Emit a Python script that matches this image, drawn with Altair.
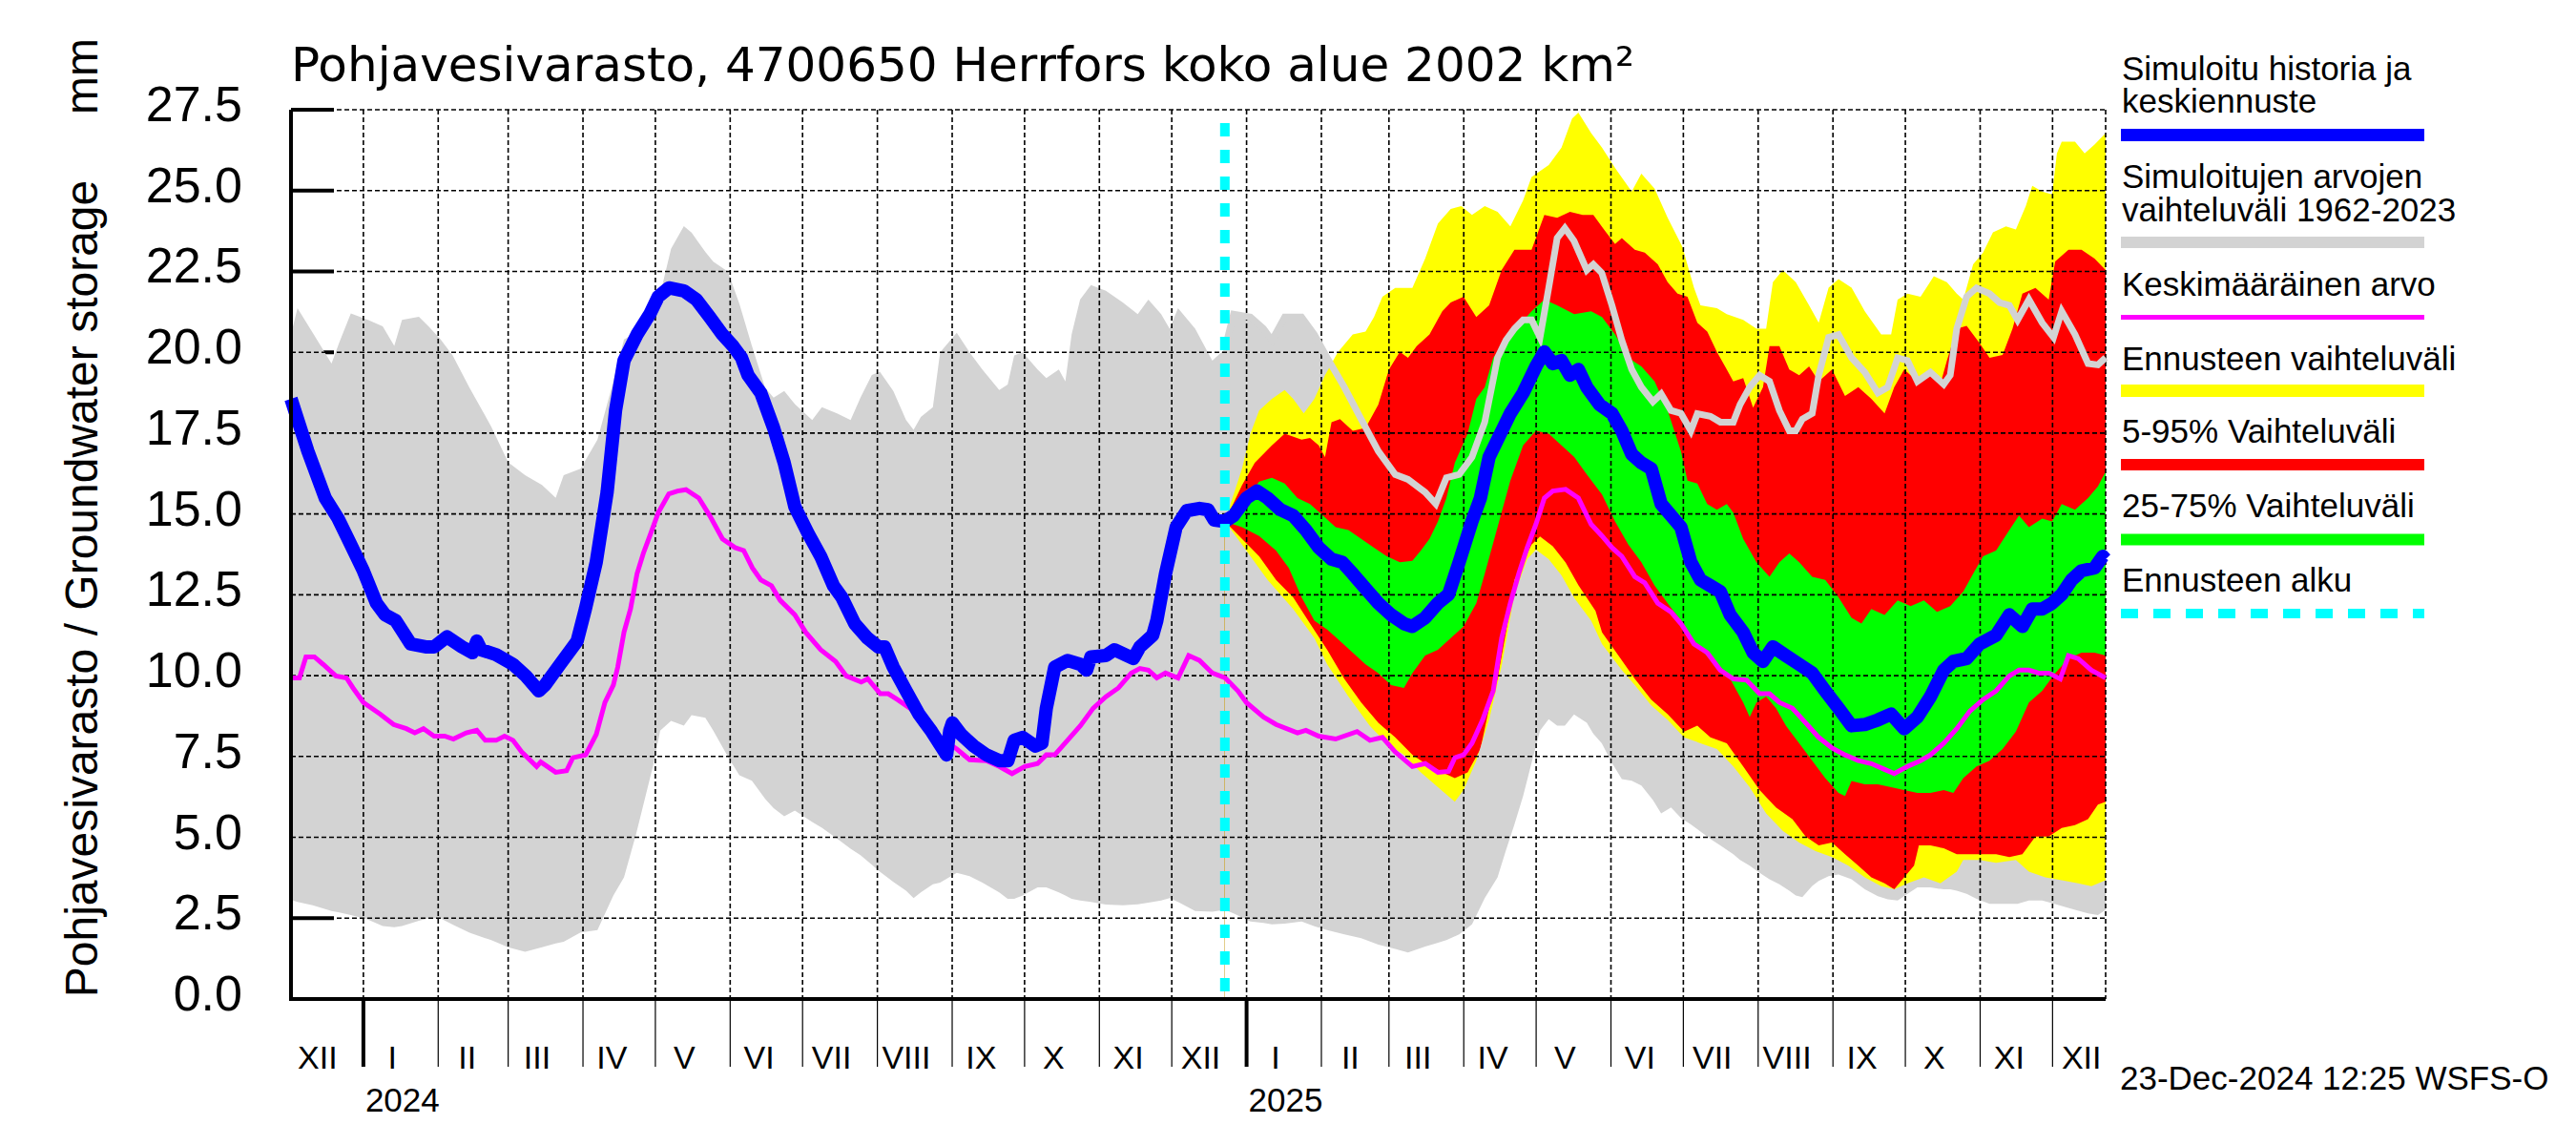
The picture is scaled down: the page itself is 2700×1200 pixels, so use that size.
import altair as alt
import pandas as pd

# ---------------- texts ----------------
TITLE = "Pohjavesivarasto, 4700650 Herrfors koko alue 2002 km²"
Y_TITLE = "Pohjavesivarasto / Groundwater storage"
Y_UNIT = "mm"
STAMP = "23-Dec-2024 12:25 WSFS-O"

# ---------------- time axis ----------------
ORIGIN = pd.Timestamp("2023-12-01")          # day 0
X_START = "2023-12-02"
X_END = "2025-12-23"
FORECAST_START = "2024-12-23"
MONTH_NAMES = ["XII", "I", "II", "III", "IV", "V", "VI", "VII", "VIII", "IX", "X", "XI", "XII",
               "I", "II", "III", "IV", "V", "VI", "VII", "VIII", "IX", "X", "XI", "XII"]
YEAR_NAMES = ["2024", "2025"]
Y_TICKS = [0.0, 2.5, 5.0, 7.5, 10.0, 12.5, 15.0, 17.5, 20.0, 22.5, 25.0, 27.5]

# ---------------- data (day = days since 2023-12-01, value in mm) ----------------
range_day = [1, 3.7, 10, 17.8, 21, 25.8, 32.9, 39, 43.8, 47,
             54, 58, 63, 68, 75, 84, 91, 98, 105, 110.7,
             114, 121, 128, 134.6, 139, 144, 151, 154, 158.5, 163.8,
             167, 172.7, 176, 182, 186.8, 192, 197.5, 201, 205.4, 209.8,
             217, 221, 227.5, 232.9, 237, 241.7, 245, 250.6, 255.9, 259,
             262, 267, 270, 276.9, 282.2, 287.5, 294.5, 298, 300.7, 304.2,
             310.4, 314, 319.2, 321.9, 324.5, 328, 332.5, 338.7, 345.7, 351.9,
             356.3, 361.6, 365.1, 368.6, 375.7, 382.8, 388, 391.6, 398.6, 404,
             407.5, 412.8, 419.8, 425.1, 430.4, 437.5, 444.5, 451.6, 458.6, 463.9,
             471, 475.4, 479.8, 485.1, 490.4, 495.7, 501, 504.5, 508, 511.6,
             515.1, 518.6, 522.2, 525.7, 528.9, 532.7, 538, 540.7, 544.2, 548.4,
             552.5, 556.6, 560.6, 565.4, 568.8, 572.9, 577, 581.1, 583.8, 589.2,
             593.3, 598.7, 601.5, 605.5, 609.6, 613.7, 617.8, 621.9, 624.6, 627.3,
             631.4, 634.1, 638.2, 642.3, 647.7, 653.2, 658.6, 662.7, 666.8, 670.9,
             675, 680.4, 685.9, 688.6, 691.3, 695.4, 699.5, 704.9, 709, 713.1,
             716.5, 721.2, 726.7, 731.4, 734.8, 740.3, 745.7, 749.8, 753]
range_max = [20.55, 21.36, 20.6, 19.65, 20.3, 21.2, 21.0, 20.8, 20.2, 21.0,
             21.1, 20.8, 20.4, 19.9, 18.9, 17.7, 16.6, 16.2, 15.9, 15.5,
             16.2, 16.4, 17.3, 19.1, 20.4, 20.6, 20.9, 21.8, 23.2, 23.9,
             23.7, 23.1, 22.8, 22.5, 21.5, 20.2, 18.9, 18.6, 18.8, 18.4,
             17.9, 18.3, 18.1, 17.9, 18.6, 19.3, 19.4, 18.8, 17.9, 17.6,
             18.0, 18.3, 20.0, 20.6, 20.0, 19.47, 18.83, 19.0, 19.9, 20.0,
             19.47, 19.2, 19.47, 19.1, 20.55, 21.63, 22.08, 21.9, 21.54, 21.18,
             21.63, 21.18, 20.73, 21.36, 20.73, 19.74, 20.1, 21.18, 21.09, 20.73,
             20.37, 21.09, 21.09, 20.55, 19.83, 18.92, 17.93, 16.94, 16.22, 16.07,
             15.67, 15.31, 16.12, 16.22, 16.76, 17.84, 19.83, 20.37, 20.73, 21.0,
             21.0, 20.46, 21.99, 23.53, 23.84, 23.44, 22.54, 22.72, 22.45, 21.45,
             20.37, 19.47, 18.92, 18.47, 18.71, 18.2, 18.11, 17.57, 18.1, 18.02,
             17.84, 17.84, 18.38, 18.92, 19.29, 19.1, 18.2, 17.57, 17.57, 17.93,
             18.11, 19.29, 20.46, 20.55, 19.83, 19.38, 18.74, 18.92, 19.83, 19.74,
             19.1, 19.38, 19.01, 19.29, 20.73, 21.72, 21.99, 21.81, 21.54, 21.45,
             21.0, 21.63, 20.91, 20.46, 21.27, 20.55, 19.65, 19.61, 19.83]
range_min = [3.07, 3.0, 2.9, 2.72, 2.68, 2.6, 2.46, 2.26, 2.22, 2.26,
             2.42, 2.49, 2.49, 2.3, 2.05, 1.82, 1.6, 1.46, 1.6, 1.72,
             1.77, 2.06, 2.13, 3.2, 3.76, 5.1, 7.2, 8.3, 8.6, 8.45,
             8.78, 8.7, 8.3, 7.5, 6.92, 6.75, 6.19, 5.9, 5.65, 5.83,
             5.47, 5.3, 4.95, 4.65, 4.45, 4.15, 3.94, 3.62, 3.35, 3.12,
             3.3, 3.55, 3.6, 3.9, 3.8, 3.6, 3.3, 3.1, 3.1, 3.2,
             3.45, 3.45, 3.3, 3.2, 3.1, 3.05, 3.0, 2.92, 2.9, 2.93,
             2.98, 3.05, 3.12, 3.0, 2.72, 2.7, 2.76, 2.65, 2.4, 2.35,
             2.31, 2.33, 2.4, 2.25, 2.13, 2.0, 1.88, 1.68, 1.55, 1.44,
             1.62, 1.72, 1.82, 2.0, 2.31, 3.12, 3.76, 4.6, 5.4, 6.28,
             7.3, 8.3, 8.65, 8.45, 8.45, 8.8, 8.54, 8.2, 7.91, 7.3,
             6.8, 6.75, 6.6, 6.15, 5.74, 5.92, 5.6, 5.4, 5.25, 4.95,
             4.75, 4.48, 4.3, 4.12, 3.9, 3.7, 3.55, 3.35, 3.2, 3.15,
             3.5, 3.65, 3.8, 3.85, 3.7, 3.39, 3.18, 3.08, 3.05, 3.25,
             3.45, 3.45, 3.39, 3.39, 3.35, 3.25, 3.1, 2.94, 2.94, 2.94,
             2.94, 3.05, 3.05, 2.95, 2.88, 2.76, 2.65, 2.6, 2.76]

simulated = [(1, 18.56), (8, 16.94), (15.2, 15.49), (20.5, 14.86), (25.8, 14.05), (31, 13.24), (36.4, 12.24),
             (40, 11.88), (44.4, 11.7), (50.6, 10.98), (56.8, 10.89), (60.3, 10.89), (65.6, 11.2), (71.8, 10.89),
             (76.2, 10.71), (78, 11.07), (79.8, 10.8), (86, 10.65), (93, 10.35), (98.3, 9.99), (103.7, 9.53),
             (106.3, 9.71), (112.5, 10.35), (119.6, 11.07), (123, 12.06), (127.5, 13.51), (132, 15.67),
             (135.5, 18.2), (139, 19.74), (144.4, 20.55), (149.7, 21.18), (153.2, 21.72), (157.6, 21.99),
             (163.8, 21.9), (169, 21.63), (174.5, 21.09), (179.8, 20.55), (184.2, 20.19), (187.7, 19.83),
             (190.4, 19.29), (195.7, 18.74), (201, 17.66), (205.4, 16.58), (209.8, 15.22), (215.2, 14.41),
             (220.5, 13.69), (225.8, 12.78), (229.3, 12.42), (234.6, 11.61), (239.9, 11.16), (244.4, 10.89),
             (247, 10.89), (250.6, 10.26), (255.9, 9.53), (261.2, 8.81), (266.5, 8.27), (272.7, 7.55),
             (274, 8.3), (275.1, 8.54), (278.7, 8.18), (284, 7.82), (289.2, 7.55), (294.5, 7.37), (298.1, 7.37),
             (300.7, 8.0), (304.2, 8.09), (309.5, 7.82), (312.2, 7.91), (314, 8.99), (317.5, 10.26),
             (322.8, 10.47), (328.1, 10.35), (330.7, 10.17), (332.5, 10.58), (338.7, 10.62), (342.2, 10.8),
             (347.5, 10.62), (350.1, 10.53), (352.8, 10.89), (358.1, 11.25), (359.8, 11.7), (363.4, 13.15),
             (367.8, 14.59), (372.2, 15.1), (377.5, 15.17), (381, 15.13), (383.6, 14.81), (388, 14.77),
             (391.6, 14.95), (396.9, 15.49), (401.3, 15.71), (405.7, 15.49), (411, 15.13), (416.3, 14.95),
             (421.6, 14.5), (426.9, 13.96), (432.2, 13.6), (436.6, 13.51), (441, 13.15), (446.3, 12.69),
             (451.6, 12.24), (456.9, 11.88), (462.2, 11.61), (465.7, 11.52), (471, 11.79), (476.3, 12.24),
             (480.7, 12.51), (485.1, 13.51), (490.4, 14.77), (493.9, 15.49), (497.5, 16.76), (501, 17.3),
             (506.3, 18.11), (511.6, 18.74), (516.9, 19.56), (520.4, 20.01), (523.9, 19.65), (527.5, 19.74),
             (531, 19.29), (534.5, 19.47), (538, 18.92), (543.3, 18.38), (548.4, 18.11), (552.5, 17.57),
             (556.6, 16.85), (560.6, 16.58), (564.7, 16.4), (568.8, 15.31), (572.9, 14.95), (577, 14.59),
             (581.1, 13.51), (585.1, 12.96), (589.2, 12.78), (593.3, 12.6), (597.4, 11.88), (602.8, 11.34),
             (606.9, 10.71), (611, 10.44), (615.1, 10.89), (620.5, 10.62), (626, 10.35), (631.4, 10.08),
             (636.8, 9.53), (642.3, 8.99), (647.7, 8.45), (653.2, 8.49), (658.6, 8.63), (664.1, 8.81),
             (669.5, 8.36), (675, 8.72), (680.4, 9.35), (685.9, 10.17), (689.9, 10.44), (695.4, 10.53),
             (700.8, 10.98), (707.6, 11.25), (713.1, 11.88), (718.5, 11.52), (722.6, 12.06), (726.7, 12.06),
             (730.8, 12.24), (734.8, 12.51), (738.9, 12.96), (743, 13.24), (748.4, 13.33), (751.8, 13.69),
             (753, 13.6)]

mean_value = [(1, 9.93), (4.5, 9.93), (7.2, 10.58), (10.7, 10.58), (14.3, 10.35), (19.6, 9.99), (24, 9.93),
              (26.7, 9.62), (31, 9.17), (38, 8.81), (43.5, 8.49), (48.8, 8.36), (52.3, 8.23), (55.9, 8.36),
              (60.3, 8.13), (64.7, 8.13), (68.3, 8.04), (73.6, 8.23), (78, 8.31), (81.5, 8.0), (86, 8.0),
              (89.5, 8.13), (93, 8.0), (96.6, 7.64), (102.8, 7.19), (104.5, 7.33), (110.7, 7.01), (115.2, 7.06),
              (117.8, 7.46), (123.1, 7.55), (127.5, 8.18), (131.1, 9.17), (134.6, 9.71), (136.4, 10.26),
              (139, 11.34), (141.7, 12.06), (144.4, 13.15), (147, 13.78), (149.7, 14.32), (153.2, 15.04),
              (157.6, 15.62), (161.2, 15.71), (164.7, 15.75), (170, 15.49), (174.5, 14.95), (179.8, 14.23),
              (185, 13.96), (188.6, 13.87), (192.2, 13.33), (195.7, 12.96), (200.1, 12.78), (203.7, 12.33),
              (209.8, 11.88), (214.3, 11.34), (220.5, 10.8), (226.7, 10.44), (231.1, 9.99), (237.3, 9.8),
              (240, 9.9), (245.2, 9.44), (248.5, 9.44), (252.3, 9.26), (257.6, 8.99), (262.9, 8.63),
              (268.3, 8.18), (271.6, 8.0), (276.9, 7.73), (282.2, 7.4), (289.2, 7.37), (294.5, 7.19),
              (299.8, 6.97), (305.1, 7.19), (310.4, 7.28), (314, 7.55), (317.5, 7.55), (322.8, 8.0),
              (328.1, 8.45), (333.4, 8.99), (338.7, 9.35), (343.9, 9.62), (349.2, 10.08), (352.8, 10.22),
              (356.3, 10.17), (359.8, 9.93), (363.4, 10.08), (368.6, 9.93), (373, 10.62), (377.5, 10.47),
              (382.8, 10.08), (388.1, 9.93), (393.4, 9.53), (396.9, 9.17), (404, 8.72), (409.2, 8.49),
              (418.1, 8.23), (421.6, 8.31), (426.9, 8.13), (433.9, 8.04), (442.8, 8.27), (448.1, 8.0),
              (453.3, 8.09), (458.6, 7.64), (465.7, 7.19), (471, 7.28), (476.3, 7.01), (480.7, 7.04),
              (483.3, 7.46), (486.9, 7.55), (490.4, 7.91), (494.8, 8.63), (499.2, 9.53), (502.7, 11.16),
              (506.3, 12.24), (509.8, 13.15), (513.3, 13.96), (516.9, 14.68), (520.4, 15.49), (523.9, 15.71),
              (529.2, 15.76), (534.5, 15.49), (539.8, 14.68), (544.3, 14.32), (548.4, 13.96), (552.5, 13.69),
              (557.9, 13.06), (562, 12.87), (567.4, 12.24), (572.9, 11.97), (577, 11.61), (582.4, 10.98),
              (587.9, 10.71), (593.3, 10.17), (598.7, 9.9), (604.2, 9.86), (609.6, 9.44), (613.7, 9.44),
              (617.8, 9.17), (623.2, 8.99), (628.7, 8.54), (634.1, 8.09), (639.6, 7.76), (645, 7.55),
              (650.5, 7.37), (655.9, 7.28), (661.4, 7.1), (665.4, 6.97), (670.9, 7.19), (676.3, 7.37),
              (680.4, 7.55), (685.9, 7.91), (691.3, 8.36), (696.7, 8.9), (702.2, 9.26), (707.6, 9.53),
              (713.1, 9.99), (717.1, 10.17), (721.2, 10.17), (725.3, 10.08), (729.4, 10.08), (734.2, 9.9),
              (737.6, 10.62), (741.6, 10.53), (747.1, 10.17), (753, 9.93)]

fc_max = [(388, 14.77), (395.1, 16.4), (398.6, 17.48), (402.2, 18.2), (407.5, 18.56), (412.8, 18.83),
          (416.3, 18.56), (420.7, 18.11), (425.1, 18.56), (429.5, 19.29), (432.2, 19.65), (434.8, 20.0),
          (441, 20.55), (446.3, 20.64), (449.8, 21.09), (453.3, 21.72), (458.6, 21.99), (465.7, 21.99),
          (471, 22.9), (476.3, 23.98), (481.6, 24.43), (486, 24.52), (490.4, 24.25), (495.7, 24.52),
          (501, 24.34), (506.3, 23.89), (511.6, 24.7), (515.1, 25.42), (522.2, 25.79), (527.5, 26.33),
          (531.9, 27.23), (534.5, 27.41), (539.8, 26.78), (544.3, 26.33), (549.7, 25.7), (556.6, 24.97),
          (560.6, 25.52), (566.1, 25.06), (571.5, 24.16), (577.6, 23.26), (582.4, 22.0), (585.1, 21.45),
          (591.9, 21.36), (596, 21.18), (602.8, 21.0), (608.3, 20.73), (612.3, 20.73), (615.1, 22.17),
          (619.2, 22.54), (624.6, 22.17), (630.1, 21.45), (634.1, 20.91), (638.2, 22.0), (642.3, 22.26),
          (647.7, 22.0), (653.2, 21.27), (660, 20.55), (664.1, 20.55), (666.8, 21.63), (670.9, 21.81),
          (676.3, 21.72), (681.8, 22.35), (687.2, 22.17), (691.3, 21.81), (694, 21.63), (698.1, 22.72),
          (702.2, 23.08), (706.3, 23.71), (711.7, 23.89), (715.8, 23.8), (719.9, 24.52), (722.6, 25.15),
          (726.7, 24.97), (730.8, 24.88), (732.8, 26.15), (734.8, 26.51), (740.3, 26.51), (744.3, 26.15),
          (748.4, 26.42), (753, 26.78)]

fc_p95 = [(388, 14.77), (395.1, 15.89), (400.4, 16.58), (407.5, 17.12), (412.8, 17.48), (419.8, 17.3),
          (423.3, 17.35), (426.9, 17.12), (429.5, 16.76), (432.2, 17.84), (435.7, 17.93), (441, 17.57),
          (446.3, 17.66), (451.6, 18.38), (456, 19.47), (460.5, 20.01), (463.9, 19.83), (467.5, 20.19),
          (472.8, 20.55), (478.1, 21.27), (481.6, 21.54), (486.9, 21.72), (492.2, 21.09), (497.5, 21.45),
          (502.7, 22.54), (508, 23.17), (515.1, 23.17), (520.4, 24.25), (525.7, 24.16), (531, 24.34),
          (536.3, 24.25), (540.7, 24.25), (545.1, 23.8), (549.7, 23.35), (552.5, 23.53), (557.9, 23.17),
          (562, 23.08), (567.4, 22.72), (571.5, 22.17), (575.6, 21.81), (579.7, 21.72), (583.8, 20.91),
          (587.9, 20.64), (591.9, 20.01), (596, 19.47), (598.7, 19.1), (602.8, 19.2), (606.9, 18.29),
          (611, 18.92), (613.7, 20.19), (617.8, 20.19), (621.9, 19.47), (626, 19.29), (630.1, 19.56),
          (634.1, 19.1), (639.6, 19.47), (645, 18.65), (650.5, 18.92), (655.9, 18.56), (661.4, 18.11),
          (665.4, 18.92), (669.5, 19.47), (675, 19.1), (680.4, 19.38), (684.5, 19.01), (687.2, 19.74),
          (691.3, 20.73), (695.4, 20.82), (700.8, 20.28), (704.9, 19.83), (710.3, 19.92), (714.4, 20.73),
          (718.5, 21.81), (723.9, 21.99), (729.4, 21.63), (732.1, 22.81), (737.6, 23.17), (743, 23.17),
          (748.4, 22.9), (753, 22.54)]

fc_p75 = [(388, 14.77), (395.1, 15.31), (402.2, 16.0), (407.5, 16.12), (412.8, 15.94), (418.1, 15.49),
          (423.3, 15.31), (428.6, 14.95), (433.9, 14.59), (439.2, 14.5), (444.5, 14.23), (449.8, 13.96),
          (455.1, 13.69), (460.5, 13.51), (465.7, 13.55), (469.2, 13.87), (472.8, 14.23), (476.3, 14.77),
          (479.8, 15.49), (483.3, 16.58), (488.6, 17.48), (492.2, 18.56), (495.7, 18.92), (499.2, 19.83),
          (504.5, 20.37), (509.8, 20.82), (515.1, 21.27), (520.4, 21.63), (525.7, 21.45), (532.8, 21.18),
          (539.8, 21.27), (544.3, 21.09), (549.7, 20.55), (555.2, 19.83), (560.6, 19.56), (566.1, 19.1),
          (571.5, 18.2), (577, 16.94), (579.7, 16.03), (583.8, 15.94), (587.9, 15.31), (591.9, 15.13),
          (596, 15.31), (598.7, 15.04), (602.8, 14.23), (608.3, 13.51), (613.7, 13.06), (617.8, 13.51),
          (621.9, 13.78), (626, 13.51), (631.4, 13.06), (636.8, 12.96), (642.3, 12.42), (647.7, 11.79),
          (651.8, 11.61), (655.9, 12.06), (661.4, 11.88), (666.8, 12.33), (672.2, 12.15), (677.7, 12.33),
          (683.1, 11.97), (688.6, 12.15), (694, 12.6), (698.1, 13.15), (702.2, 13.69), (707.6, 13.87),
          (713.1, 14.5), (717.1, 14.95), (721.2, 14.59), (726.7, 14.86), (730.8, 14.77), (734.8, 15.31),
          (740.3, 15.13), (745.7, 15.49), (749.8, 15.85), (753, 16.31)]

fc_p25 = [(388, 14.77), (395.1, 14.59), (402.2, 14.32), (409.2, 13.87), (414.5, 13.33), (419.8, 12.42),
          (425.1, 11.7), (430.4, 11.43), (435.7, 11.07), (441, 10.71), (446.3, 10.35), (451.6, 10.08),
          (456.9, 9.71), (462.2, 9.62), (465.7, 10.08), (471, 10.62), (476.3, 10.8), (481.6, 11.16),
          (486.9, 11.52), (492.2, 12.24), (495.7, 13.15), (501, 14.59), (506.3, 16.03), (511.6, 17.12),
          (516.9, 17.57), (522.2, 17.48), (527.5, 17.12), (532.8, 16.76), (538, 16.22), (544.3, 15.6),
          (549.7, 14.77), (555.2, 14.05), (560.6, 13.51), (566.1, 12.78), (571.5, 12.24), (577, 11.7),
          (582.4, 11.07), (586.5, 10.71), (591.9, 10.26), (597.4, 9.9), (602.8, 9.17), (605.5, 8.72),
          (608.3, 9.17), (612.3, 9.35), (616.4, 8.99), (620.5, 8.45), (626, 7.91), (631.4, 7.37),
          (636.8, 6.83), (642.3, 6.37), (645, 6.28), (647.7, 6.74), (653.2, 6.64), (658.6, 6.64),
          (664.1, 6.55), (669.5, 6.46), (675, 6.37), (680.4, 6.37), (685.9, 6.46), (689.9, 6.37),
          (694, 6.83), (699.5, 7.19), (704.9, 7.37), (710.3, 7.73), (715.8, 8.27), (721.2, 9.17),
          (726.7, 9.53), (732.1, 10.08), (737.6, 10.53), (743, 10.71), (748.4, 10.71), (753, 10.62)]

fc_p05 = [(388, 14.77), (395.1, 14.23), (402.2, 13.69), (409.2, 12.96), (416.3, 12.42), (423.3, 11.61),
          (430.4, 10.8), (437.5, 9.9), (444.5, 9.17), (451.6, 8.54), (458.6, 8.09), (465.7, 7.55),
          (472.8, 7.19), (478.1, 7.01), (483.3, 6.83), (488.6, 7.01), (493.9, 7.73), (497.5, 8.99),
          (501, 9.9), (504.5, 11.34), (508, 12.96), (511.6, 13.51), (515.1, 14.05), (518.6, 14.3),
          (523.9, 14.0), (529.2, 13.5), (534.5, 12.8), (541.6, 12.0), (544.3, 11.34), (551.1, 10.62),
          (557.9, 9.9), (564.7, 9.26), (571.5, 8.81), (578.3, 8.27), (583.8, 8.45), (589.2, 8.09),
          (596, 7.91), (602.8, 7.19), (609.6, 6.46), (616.4, 5.92), (623.2, 5.56), (628.7, 5.02),
          (634.1, 4.75), (639.6, 4.84), (645, 4.48), (650.5, 4.12), (655.9, 3.76), (661.4, 3.58),
          (665.4, 3.39), (669.5, 3.76), (673.6, 4.12), (675.6, 4.75), (680.4, 4.75), (685.9, 4.66),
          (691.3, 4.48), (696.7, 4.48), (702.2, 4.48), (707.6, 4.48), (713.1, 4.39), (718.5, 4.48),
          (723.9, 5.02), (729.4, 5.02), (734.8, 5.29), (740.3, 5.38), (745.7, 5.56), (749.8, 6.01),
          (753, 6.1)]

fc_min = [(388, 14.77), (395.1, 14.05), (405.7, 12.96), (416.3, 12.06), (425.1, 11.16), (430.4, 10.35),
          (439.2, 9.35), (448, 8.45), (455.1, 7.91), (462.2, 7.55), (469.2, 7.01), (476.3, 6.55),
          (483.3, 6.1), (486.9, 6.46), (492.2, 7.37), (497.5, 8.63), (502.7, 10.3), (508, 12.5),
          (513.3, 13.6), (516.9, 13.9), (522.2, 13.6), (527.5, 13.1), (532.8, 12.4), (539.8, 11.7),
          (544.3, 10.98), (552.5, 10.17), (557.9, 9.71), (564.7, 9.08), (571.5, 8.63), (578.3, 8.09),
          (585.1, 7.91), (591.9, 7.73), (598.7, 7.19), (605.5, 6.55), (612.3, 5.74), (619.2, 5.2),
          (626, 4.84), (632.8, 4.57), (639.6, 4.39), (646.4, 4.12), (653.2, 3.76), (660, 3.49),
          (665.4, 3.39), (670.9, 3.58), (677.7, 3.76), (684.5, 3.58), (691.3, 3.94), (694, 4.3),
          (700.8, 4.3), (707.6, 4.21), (715.8, 4.3), (721.2, 3.94), (728, 3.76), (734.8, 3.67),
          (741.6, 3.58), (747.1, 3.49), (753, 3.67)]

LEGEND_LINES = [["Simuloitu historia ja", "keskiennuste"],
                ["Simuloitujen arvojen", "vaihteluväli 1962-2023"],
                ["Keskimääräinen arvo"],
                ["Ennusteen vaihteluväli"],
                ["5-95% Vaihteluväli"],
                ["25-75% Vaihteluväli"],
                ["Ennusteen alku"]]

# ---------------- styles / layout ----------------
C_BLUE, C_GRAY, C_MAG = "#0000ff", "#d3d3d3", "#ff00ff"
C_YEL, C_RED, C_GRN, C_CYAN = "#ffff00", "#ff0000", "#00ff00", "#00ffff"
LEGEND_COLORS = [C_BLUE, C_GRAY, C_MAG, C_YEL, C_RED, C_GRN, C_CYAN]
LEGEND_WIDTHS = [13, 12, 5, 13, 12, 12, 10]
LEGEND_BASELINES = [[-31, 3], [82, 117], [195], [273], [349], [427], [505]]
LEGEND_SWATCH_Y = [26.5, 139, 217.5, 294.5, 372, 450.5, 528]
LEGEND_X0, LEGEND_X1 = 1918, 2236

W, H = 1902, 932
SANS = "Liberation Sans"
WIDE = "DejaVu Sans"


def day(s):
    return (pd.Timestamp(s) - ORIGIN).days


xs = alt.Scale(domain=[day(X_START), day(X_END)], nice=False, zero=False)
ys = alt.Scale(domain=[0, 27.5], nice=False, zero=True)
X = alt.X("day:Q", scale=xs, axis=None)


def Y(f="v"):
    return alt.Y(f"{f}:Q", scale=ys, axis=None)


def series_df(pairs):
    return pd.DataFrame(pairs, columns=["day", "v"])


def fill_down(df, color):
    return alt.Chart(df).mark_area(color=color, interpolate="linear").encode(x=X, y=Y(), y2=alt.datum(0))


def text_at(t, x, y, size, font=SANS, align="left", angle=0):
    return alt.Chart(pd.DataFrame({"t": [t]})).mark_text(
        font=font, fontSize=size, align=align, baseline="alphabetic", angle=angle, color="black"
    ).encode(x=alt.value(x), y=alt.value(y), text="t:N")


f0 = day(FORECAST_START)
band = pd.DataFrame({"day": range_day, "vmax": range_max, "vmin": range_min})
band_fc = band[band["day"] >= f0]
months = pd.date_range("2023-12-01", "2025-12-01", freq="MS")
month_start = [(m - ORIGIN).days for m in months]
years = [day("2024-01-01"), day("2025-01-01")]
grid_x = [d for d in month_start if d > day(X_START)] + [day(X_END)]
tick_months = [d for d in month_start if d > day(X_START) and d not in years]

layers = []
# inward y ticks (under the data)
layers.append(alt.Chart(pd.DataFrame({"v": Y_TICKS[1:]})).mark_rule(color="black", strokeWidth=4).encode(
    x=alt.value(0), x2=alt.value(45), y=Y()))
# simulated range band
layers.append(alt.Chart(band).mark_area(color=C_GRAY).encode(x=X, y=Y("vmax"), y2="vmin:Q"))
# forecast bands (painted top-down)
layers.append(fill_down(series_df(fc_max), C_YEL))
layers.append(fill_down(series_df(fc_p95), C_RED))
layers.append(fill_down(series_df(fc_p75), C_GRN))
layers.append(fill_down(series_df(fc_p25), C_RED))
layers.append(fill_down(series_df(fc_p05), C_YEL))
layers.append(fill_down(series_df(fc_min), C_GRAY))
layers.append(alt.Chart(band_fc).mark_area(color="white").encode(x=X, y=Y("vmin"), y2=alt.datum(0)))
# dashed grid
grid_style = dict(color="black", strokeWidth=1.6, strokeDash=[5, 3])
layers.append(alt.Chart(pd.DataFrame({"v": Y_TICKS[1:]})).mark_rule(**grid_style).encode(
    x=alt.value(0), x2=alt.value(W), y=Y()))
layers.append(alt.Chart(pd.DataFrame({"day": grid_x})).mark_rule(**grid_style).encode(
    x=X, y=alt.value(0), y2=alt.value(H)))
# lines
layers.append(alt.Chart(series_df(mean_value)).mark_line(color=C_MAG, strokeWidth=5).encode(x=X, y=Y()))
layers.append(alt.Chart(band_fc).mark_line(color=C_GRAY, strokeWidth=7).encode(x=X, y=Y("vmax")))
layers.append(alt.Chart(series_df(simulated)).mark_line(color=C_BLUE, strokeWidth=14, strokeJoin="round").encode(
    x=X, y=Y()))
# axes
layers.append(alt.Chart(pd.DataFrame({"a": [0]})).mark_rule(color="black", strokeWidth=4).encode(
    x=alt.value(0), y=alt.value(0), y2=alt.value(H + 2)))
layers.append(alt.Chart(pd.DataFrame({"a": [0]})).mark_rule(color="black", strokeWidth=4).encode(
    x=alt.value(-2), x2=alt.value(W), y=alt.value(H)))
layers.append(alt.Chart(pd.DataFrame({"day": tick_months})).mark_rule(color="black", strokeWidth=1.2).encode(
    x=X, y=alt.value(H), y2=alt.value(H + 71)))
layers.append(alt.Chart(pd.DataFrame({"day": years})).mark_rule(color="black", strokeWidth=4).encode(
    x=X, y=alt.value(H), y2=alt.value(H + 71)))
# month / year labels
layers.append(alt.Chart(pd.DataFrame({"day": [d + 12 for d in month_start], "t": MONTH_NAMES})).mark_text(
    font=SANS, fontSize=34, align="center", baseline="alphabetic", color="black").encode(
    x=X, y=alt.value(H + 73), text="t:N"))
layers.append(alt.Chart(pd.DataFrame({"day": years, "t": YEAR_NAMES})).mark_text(
    font=SANS, fontSize=35, align="left", baseline="alphabetic", dx=2, color="black").encode(
    x=X, y=alt.value(H + 118), text="t:N"))
# y labels
layers.append(alt.Chart(pd.DataFrame({"v": Y_TICKS, "t": [f"{v:.1f}" for v in Y_TICKS]})).mark_text(
    font=SANS, fontSize=52, align="right", baseline="alphabetic", dy=12, color="black").encode(
    x=alt.value(-51), y=Y(), text="t:N"))
# forecast start
layers.append(alt.Chart(pd.DataFrame({"day": [f0]})).mark_rule(
    color=C_CYAN, strokeWidth=10, strokeDash=[14, 14], strokeDashOffset=14).encode(
    x=X, y=alt.value(0), y2=alt.value(H)))
# titles
layers.append(text_at(TITLE, 0, -30, 50, font=WIDE))
layers.append(text_at(Y_TITLE, -203, 502, 48, align="center", angle=270))
layers.append(text_at(Y_UNIT, -203, -35, 48, align="center", angle=270))
layers.append(text_at(STAMP, 1917, 1027, 35))
# legend
for lines, base, col, sw, sy in zip(LEGEND_LINES, LEGEND_BASELINES, LEGEND_COLORS, LEGEND_WIDTHS, LEGEND_SWATCH_Y):
    for ln, b in zip(lines, base):
        layers.append(text_at(ln, LEGEND_X0 + 1, b, 35))
    style = dict(color=col, strokeWidth=sw)
    if col == C_CYAN:
        style["strokeDash"] = [18, 16]
    layers.append(alt.Chart(pd.DataFrame({"a": [0]})).mark_rule(**style).encode(
        x=alt.value(LEGEND_X0), x2=alt.value(LEGEND_X1), y=alt.value(sy)))

chart = alt.layer(*layers).properties(
    width=W, height=H,
    padding={"left": 297, "top": 107, "right": 470, "bottom": 140},
    autosize=alt.AutoSizeParams(type="none"),
    background="white",
).configure_view(stroke=None)

chart.save("out.html", embed_options={"renderer": "svg", "actions": False})
